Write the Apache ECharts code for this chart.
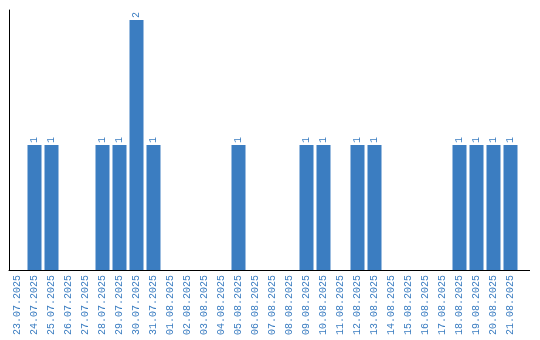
<!DOCTYPE html>
<html>
<head>
<meta charset="utf-8">
<script src="https://cdn.jsdelivr.net/npm/echarts@6/dist/echarts.min.js"></script>
<style>html,body{margin:0;padding:0;background:#fff}#c{width:540px;height:340px}</style>
</head>
<body>
<div id="c"></div>
<script>
const categories = ["23.07.2025","24.07.2025","25.07.2025","26.07.2025","27.07.2025","28.07.2025","29.07.2025","30.07.2025","31.07.2025","01.08.2025","02.08.2025","03.08.2025","04.08.2025","05.08.2025","06.08.2025","07.08.2025","08.08.2025","09.08.2025","10.08.2025","11.08.2025","12.08.2025","13.08.2025","14.08.2025","15.08.2025","16.08.2025","17.08.2025","18.08.2025","19.08.2025","20.08.2025","21.08.2025"];
const counts = [0,1,1,0,0,1,1,2,1,0,0,0,0,1,0,0,0,1,1,0,1,1,0,0,0,0,1,1,1,1];
const yMax = 2.08;

const blue = '#3b7dc1';
const font = 'Liberation Mono';
const chart = echarts.init(document.getElementById('c'), null, {renderer: 'canvas'});
chart.setOption({
  animation: false,
  grid: {left: 9, right: 21, top: 10, bottom: 70, containLabel: false},
  xAxis: {
    type: 'category',
    data: categories,
    axisLine: {show: true, lineStyle: {color: '#000', width: 1}},
    axisTick: {show: false},
    axisLabel: {rotate: 90, color: blue, fontFamily: font, fontSize: 10, margin: 5, interval: 0}
  },
  yAxis: {
    type: 'value',
    min: 0,
    max: yMax,
    axisLine: {show: true, lineStyle: {color: '#000', width: 1}},
    axisTick: {show: false},
    axisLabel: {show: false},
    splitLine: {show: false}
  },
  series: [{
    type: 'bar',
    data: counts.map(v => v === 0 ? {value: 0, label: {show: false}} : v),
    barWidth: 14,
    itemStyle: {color: blue},
    label: {
      show: true,
      position: 'top',
      rotate: 90,
      align: 'left',
      verticalAlign: 'middle',
      distance: 2,
      color: blue,
      fontFamily: font,
      fontSize: 10
    }
  }]
});
// extend the x axis baseline a little past the last category, as in the reference
const y0 = chart.convertToPixel({yAxisIndex: 0}, 0);
const xEnd = chart.getWidth() - 21;
chart.setOption({
  graphic: [{
    type: 'line',
    shape: {x1: xEnd - 1, y1: Math.round(y0) + 0.5, x2: xEnd + 11, y2: Math.round(y0) + 0.5},
    style: {stroke: '#000', lineWidth: 1}
  }]
});
</script>
</body>
</html>
